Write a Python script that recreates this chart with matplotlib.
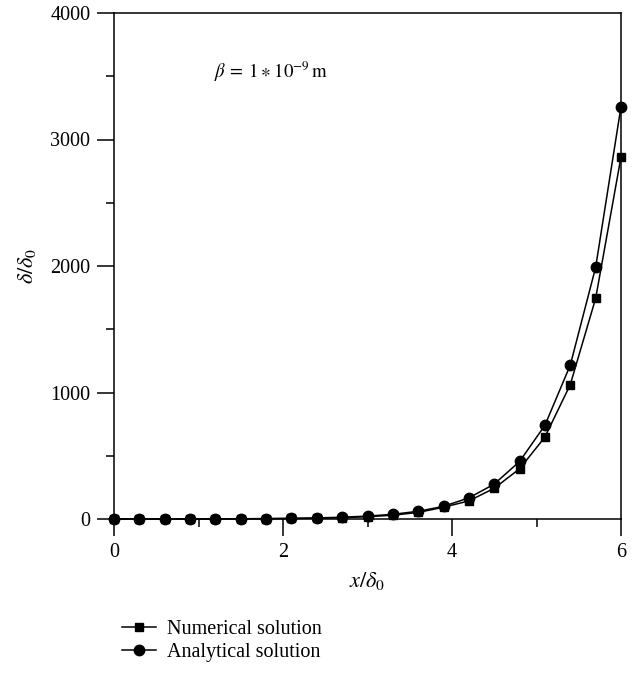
import matplotlib
matplotlib.use("Agg")
import matplotlib.pyplot as plt
from matplotlib.ticker import MultipleLocator

plt.rcParams['font.family'] = ['Liberation Serif', 'DejaVu Serif']
plt.rcParams['mathtext.fontset'] = 'stix'

# x / delta_0 positions
x = [0.0, 0.3, 0.6, 0.9, 1.2, 1.5, 1.8, 2.1, 2.4, 2.7, 3.0,
     3.3, 3.6, 3.9, 4.2, 4.5, 4.8, 5.1, 5.4, 5.7, 6.0]

# (small values are estimates)
numerical = [0.12, 0.2, 0.33, 0.55, 0.9, 1.5, 2.4, 4.0, 6.5, 11, 18,
             30, 52, 93, 143, 243, 397, 648, 1063, 1744, 2862]
analytical = [0.16, 0.26, 0.43, 0.7, 1.2, 1.9, 3.1, 5.1, 8.4, 14, 23,
              37, 61, 100, 167, 276, 455, 741, 1217, 1990, 3260]

fig = plt.figure(figsize=(6.34, 6.86), dpi=100)
ax = fig.add_axes([114/634, 1 - 519/686, (621 - 114)/634, (519 - 13)/686])

ax.plot(x, numerical, '-', color='black', lw=1.1, marker='s', ms=6,
        clip_on=False, zorder=3, label='Numerical solution')
ax.plot(x, analytical, '-', color='black', lw=1.1, marker='o', ms=7.5,
        clip_on=False, zorder=4, label='Analytical solution')

ax.set_xlim(0, 6)
ax.set_ylim(0, 4000)
ax.xaxis.set_major_locator(MultipleLocator(2))
ax.xaxis.set_minor_locator(MultipleLocator(1))
ax.yaxis.set_major_locator(MultipleLocator(1000))
ax.yaxis.set_minor_locator(MultipleLocator(500))
ax.tick_params(which='major', direction='out', length=12, width=1.1,
               labelsize=14.5, pad=5)
ax.tick_params(which='minor', direction='out', length=6, width=1.1)
for s in ax.spines.values():
    s.set_linewidth(1.1)

ax.set_xlabel(r'$x/\delta_0$', fontsize=16, labelpad=6)
ax.set_ylabel(r'$\delta/\delta_0$', fontsize=16, labelpad=9)

ax.text(0.197, 0.872, r'$\beta\:=\:1\:\ast\:10^{-9}\,\mathrm{m}$', transform=ax.transAxes,
        fontsize=13.5)

fig.legend(loc='center left', bbox_to_anchor=(122/634, 1 - 641/686), frameon=False,
           fontsize=14.5, handlelength=1.7, handletextpad=0.55, labelspacing=0.15,
           borderaxespad=0, borderpad=0)

fig.savefig('out.png', dpi=100)
